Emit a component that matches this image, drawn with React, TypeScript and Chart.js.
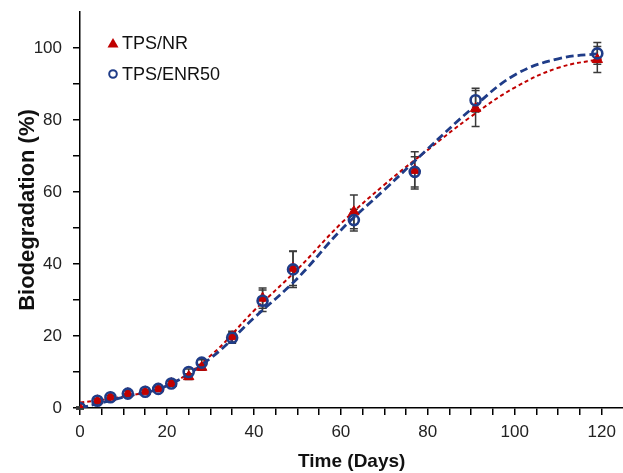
import React, { useEffect, useRef } from "react";
import { Chart, registerables } from "chart.js";

Chart.register(...registerables);

// ---- data ----
const seriesLabels = ["TPS/NR", "TPS/ENR50"];
const days = [0, 4, 7, 11, 15, 18, 21, 25, 28, 35, 42, 49, 63, 77, 91, 119];
const nrValues = [0, 2, 3, 4, 4.5, 5.3, 6.8, 8.7, 11.3, 19.8, 30.5, 38.8, 54.5, 66, 83.2, 96.8];
const nrErrors = [0.3, 0.5, 0.5, 0.8, 0.5, 0.5, 0.7, 0.8, 0.8, 1.5, 2.8, 4.8, 4.7, 5.2, 5, 3.6];
const enrValues = [0, 2, 3, 4, 4.5, 5.3, 6.8, 10, 12.6, 19.5, 29.8, 38.5, 52.2, 65.6, 85.5, 98.5];
const enrErrors = [0.3, 0.5, 0.5, 0.8, 0.5, 0.5, 0.7, 0.8, 0.8, 1.5, 3, 5, 3, 4.2, 3.3, 3];
const fitDays = [0, 10, 20, 30, 40, 50, 60, 70, 80, 90, 100, 110, 120];
const nrFit = [1.5, 3.2, 6.2, 14.5, 27, 38.5, 51.2, 62, 71.7, 81, 89, 94.5, 97];
const enrFit = [0, 3, 6.2, 13.8, 25, 36, 49.4, 60.6, 72, 83, 92.5, 97, 98.5];
const xTickLabels = [0, 20, 40, 60, 80, 100, 120];
const yTickLabels = [0, 20, 40, 60, 80, 100];

const RED = "#C00000";
const BLUE = "#1F3C88";
const FONT = "'Liberation Sans', Arial, sans-serif";

const toPts = (xs: number[], ys: number[]) => xs.map((x, i) => ({ x, y: ys[i] }));

const errorBarPlugin = {
  id: "errorBars",
  beforeDatasetsDraw(chart: any) {
    const { ctx, scales } = chart;
    const xs = scales.x;
    const ys = scales.y;
    const sets = [
      { vals: nrValues, errs: nrErrors },
      { vals: enrValues, errs: enrErrors },
    ];
    ctx.save();
    ctx.strokeStyle = "#3a3a3a";
    ctx.lineWidth = 1.5;
    sets.forEach((s) => {
      days.forEach((d, i) => {
        const px = xs.getPixelForValue(d);
        const top = ys.getPixelForValue(s.vals[i] + s.errs[i]);
        const bot = ys.getPixelForValue(s.vals[i] - s.errs[i]);
        ctx.beginPath();
        ctx.moveTo(px, top);
        ctx.lineTo(px, bot);
        ctx.moveTo(px - 4, top);
        ctx.lineTo(px + 4, top);
        ctx.moveTo(px - 4, bot);
        ctx.lineTo(px + 4, bot);
        ctx.stroke();
      });
    });
    ctx.restore();
  },
};

const legendPlugin = {
  id: "innerLegend",
  afterDraw(chart: any) {
    const { ctx, chartArea } = chart;
    const x0 = chartArea.left + 33;
    const y1 = chartArea.top + 31;
    const y2 = chartArea.top + 62;
    ctx.save();
    ctx.fillStyle = RED;
    ctx.beginPath();
    ctx.moveTo(x0, y1 - 5);
    ctx.lineTo(x0 + 5.5, y1 + 4.5);
    ctx.lineTo(x0 - 5.5, y1 + 4.5);
    ctx.closePath();
    ctx.fill();
    ctx.strokeStyle = BLUE;
    ctx.lineWidth = 2;
    ctx.beginPath();
    ctx.arc(x0, y2, 3.8, 0, Math.PI * 2);
    ctx.stroke();
    ctx.fillStyle = "#111";
    ctx.font = `18px ${FONT}`;
    ctx.textBaseline = "middle";
    ctx.fillText(seriesLabels[0], x0 + 9, y1 + 1);
    ctx.fillText(seriesLabels[1], x0 + 9, y2 + 1);
    ctx.restore();
  },
};

export default function App() {
  const ref = useRef<HTMLCanvasElement | null>(null);
  useEffect(() => {
    if (!ref.current) return;
    const chart = new Chart(ref.current, {
      type: "scatter",
      data: {
        datasets: [
          {
            label: seriesLabels[0],
            data: toPts(days, nrValues),
            pointStyle: "triangle",
            pointRadius: 6,
            backgroundColor: RED,
            borderColor: RED,
            borderWidth: 1,
            showLine: false,
            order: 3,
          },
          {
            label: seriesLabels[1],
            data: toPts(days, enrValues),
            pointStyle: "circle",
            pointRadius: 5,
            backgroundColor: "rgba(0,0,0,0)",
            borderColor: BLUE,
            borderWidth: 2.6,
            showLine: false,
            order: 2,
          },
          {
            label: "fit NR",
            data: toPts(fitDays, nrFit),
            showLine: true,
            pointRadius: 0,
            borderColor: RED,
            borderWidth: 2,
            borderDash: [4, 3],
            tension: 0.4,
            order: 5,
          },
          {
            label: "fit ENR50",
            data: toPts(fitDays, enrFit),
            showLine: true,
            pointRadius: 0,
            borderColor: BLUE,
            borderWidth: 2.8,
            borderDash: [8, 4],
            tension: 0.4,
            order: 4,
          },
        ],
      } as any,
      options: {
        animation: false,
        responsive: false,
        maintainAspectRatio: false,
        layout: { padding: { top: 12, right: 0, left: 0, bottom: 0 } },
        plugins: {
          legend: { display: false },
          tooltip: { enabled: false },
        },
        scales: {
          x: {
            type: "linear",
            min: 0,
            max: 125,
            afterFit: (s: any) => {
              s.height = 65;
              s.paddingLeft = 0;
              s.paddingRight = 0;
            },
            border: { color: "#000", width: 1.5 },
            grid: {
              drawOnChartArea: false,
              drawTicks: true,
              tickLength: 7,
              lineWidth: 1.5,
              color: (c: any) => (c.tick && c.tick.value > 120 ? "rgba(0,0,0,0)" : "#000"),
            },
            ticks: {
              stepSize: 5,
              autoSkip: false,
              maxRotation: 0,
              padding: 7,
              color: "#222",
              font: { family: FONT, size: 17 },
              callback: (v: any) => (xTickLabels.includes(Number(v)) ? String(v) : ""),
            },
            title: {
              display: true,
              text: "Time (Days)",
              color: "#111",
              font: { family: FONT, size: 19, weight: "bold" },
              padding: { top: 0, bottom: 0 },
            },
          },
          y: {
            type: "linear",
            min: 0,
            max: 110,
            afterFit: (s: any) => {
              s.width = 80;
              s.paddingTop = 0;
              s.paddingBottom = 0;
            },
            border: { color: "#000", width: 1.5 },
            grid: {
              drawOnChartArea: false,
              drawTicks: true,
              tickLength: 7,
              lineWidth: 1.5,
              color: (c: any) => (c.tick && c.tick.value > 100 ? "rgba(0,0,0,0)" : "#000"),
            },
            ticks: {
              stepSize: 10,
              autoSkip: false,
              padding: 11,
              color: "#222",
              font: { family: FONT, size: 17 },
              callback: (v: any) => (yTickLabels.includes(Number(v)) ? String(v) : ""),
            },
            title: {
              display: true,
              text: "Biodegradation (%)",
              color: "#111",
              font: { family: FONT, size: 22, weight: "bold" },
              padding: { top: 15, bottom: 0 },
            },
          },
        },
      } as any,
      plugins: [errorBarPlugin, legendPlugin],
    });
    return () => chart.destroy();
  }, []);

  return (
    <div style={{ position: "fixed", left: 0, top: 0, width: 623, height: 473, background: "#fff", overflow: "hidden" }}>
      <canvas ref={ref} width={631} height={473} style={{ width: 631, height: 473, display: "block" }} />
    </div>
  );
}
